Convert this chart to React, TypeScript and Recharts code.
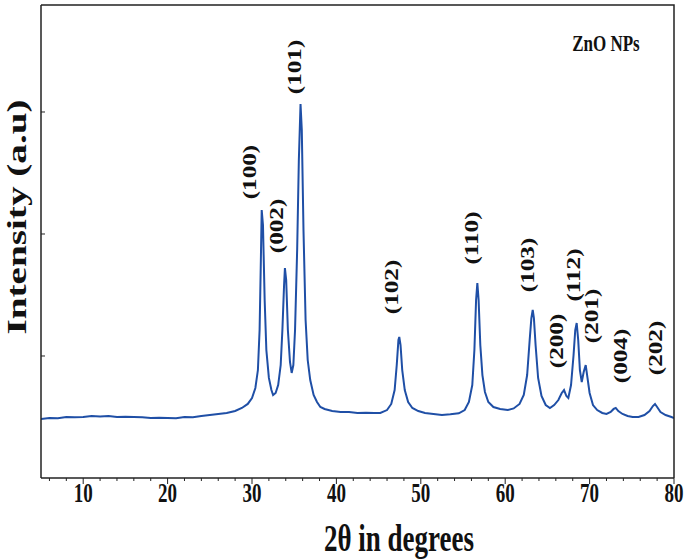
import React from "react";
import {
  LineChart,
  Line,
  XAxis,
  YAxis,
  ReferenceDot,
  Label,
} from "recharts";

// 2θ (degrees) and intensity (a.u.)
const twoTheta = [
  5, 6, 7, 8, 9, 10, 11, 12, 13, 14, 15, 16, 17, 18, 19, 20, 21, 22, 23, 24,
  25, 26, 27, 28, 28.8, 29.5, 30.0, 30.4, 30.7, 30.9, 31.05, 31.15, 31.3, 31.5,
  31.7, 32.0, 32.3, 32.5, 32.8, 33.1, 33.4, 33.6, 33.8, 33.9, 34.05, 34.25,
  34.5, 34.7, 34.9, 35.1, 35.35, 35.55, 35.75, 35.9, 36.1, 36.35, 36.6, 36.9,
  37.3, 37.7, 38.1, 38.6, 39.5, 40.5, 41.5, 42.5, 43.5, 44.5, 45.2, 46.0, 46.5,
  46.9, 47.15, 47.35, 47.45, 47.6, 47.8, 48.1, 48.5, 49.0, 49.7, 50.5, 51.5,
  52.5, 53.5, 54.5, 55.2, 55.7, 56.1, 56.35, 56.55, 56.7, 56.85, 57.05, 57.3,
  57.6, 58.0, 58.6, 59.4, 60.3, 61.0, 61.7, 62.2, 62.6, 62.9, 63.1, 63.26,
  63.4, 63.6, 63.9, 64.3, 64.8, 65.3, 65.8, 66.3, 66.7, 66.97, 67.25, 67.48,
  67.8, 68.1, 68.3, 68.47, 68.65, 68.85, 69.07, 69.3, 69.54, 69.75, 70.0, 70.4,
  70.9, 71.5, 72.0, 72.5, 72.85, 73.1, 73.4, 73.9, 74.5, 75.1, 75.8, 76.5,
  77.1, 77.5, 77.75, 78.0, 78.4, 79.0, 79.7, 80,
];
const intensity = [
  484, 492, 490, 500, 498, 500, 508, 505, 508, 500, 502, 500, 498, 492, 494,
  492, 490, 500, 498, 508, 516, 525, 533, 549, 574, 607, 656, 738, 885, 1213,
  1787, 2197, 2074, 1459, 1049, 820, 721, 680, 697, 762, 926, 1213, 1582, 1721,
  1623, 1213, 951, 861, 926, 1213, 1869, 2607, 3066, 2852, 2033, 1295, 967,
  803, 680, 623, 582, 566, 549, 541, 541, 533, 535, 533, 533, 557, 607, 721,
  926, 1131, 1156, 1090, 885, 721, 623, 574, 549, 533, 525, 516, 522, 530, 557,
  623, 762, 1049, 1459, 1598, 1459, 1090, 844, 705, 623, 582, 566, 557, 570,
  607, 680, 844, 1131, 1311, 1377, 1311, 1090, 820, 672, 598, 574, 598, 639,
  697, 721, 672, 656, 762, 1008, 1213, 1270, 1131, 885, 787, 869, 926, 820,
  697, 598, 557, 533, 525, 541, 566, 574, 549, 525, 508, 500, 500, 516, 549,
  590, 607, 582, 541, 516, 500, 492,
];

const majorTicks = [10, 20, 30, 40, 50, 60, 70, 80];
const allTicks = [
  6, 8, 10, 12, 14, 16, 18, 20, 22, 24, 26, 28, 30, 32, 34, 36, 38, 40, 42, 44,
  46, 48, 50, 52, 54, 56, 58, 60, 62, 64, 66, 68, 70, 72, 74, 76, 78, 80,
];
const yTicks = [1000, 2000, 3000];
const yMax = 3877;

// Miller indices and where their labels sit (in data coordinates)
const peakNames = ["(100)", "(002)", "(101)", "(102)", "(110)", "(103)", "(200)", "(112)", "(201)", "(004)", "(202)"];
const peakLabelX = [29.76, 32.96, 35.09, 46.59, 56.07, 62.7, 66.14, 68.15, 70.28, 73.72, 77.87];
const peakLabelY = [2508, 2066, 3369, 1566, 1967, 1746, 1123, 1664, 1328, 1000, 1066];

const data = twoTheta.map((t, i) => ({ t, v: intensity[i] }));

const W = 685;
const H = 559;
const MARGIN = { top: 5, right: 11, bottom: 0, left: 1 };
const FONT = '"Liberation Serif", "Times New Roman", serif';
const INK = "#111";

function XTick(props: any) {
  const { x, y, payload } = props;
  const major = majorTicks.includes(payload.value);
  return (
    <g>
      <line x1={x} x2={x} y1={y} y2={y + (major ? 6 : 3)} stroke="#222" strokeWidth={1} />
      {major && (
        <text
          transform={`translate(${x},${y + 24}) scale(1,1.4)`}
          textAnchor="middle"
          fontFamily={FONT}
          fontWeight="bold"
          fontSize={19}
          fill={INK}
        >
          {payload.value}
        </text>
      )}
    </g>
  );
}

// y ticks carry no numbers, only short marks
function YTick(props: any) {
  const { x, y } = props;
  return <line x1={x} x2={x + 4} y1={y} y2={y} stroke="#222" strokeWidth={1} />;
}

// y title; also closes the frame (top and right edges) from the axis viewBox
function YTitle(props: any) {
  const vb = props.viewBox || {};
  const left = vb.x + vb.width;
  const top = vb.y;
  const bottom = vb.y + vb.height;
  const right = W - MARGIN.right;
  return (
    <g>
      <path
        d={`M${left},${top} H${right} V${bottom}`}
        fill="none"
        stroke="#222"
        strokeWidth={1.5}
      />
      <text
        transform="translate(17,217) rotate(-90) scale(1.4,1)"
        textAnchor="middle"
        dominantBaseline="central"
        fontFamily={FONT}
        fontWeight="bold"
        fontSize={28}
        fill={INK}
      >
        Intensity (a.u)
      </text>
    </g>
  );
}

const peakLabel = (name: string) => (props: any) => {
  const vb = props.viewBox;
  const cx = vb.x + (vb.width || 0) / 2;
  const cy = vb.y + (vb.height || 0) / 2;
  return (
    <text
      transform={`translate(${cx},${cy}) rotate(-90) scale(1.4,1)`}
      textAnchor="middle"
      dominantBaseline="central"
      fontFamily={FONT}
      fontWeight="bold"
      fontSize={18}
      fill={INK}
    >
      {name}
    </text>
  );
};

const sampleLabel = (props: any) => {
  const vb = props.viewBox;
  const cx = vb.x + (vb.width || 0) / 2;
  const cy = vb.y + (vb.height || 0) / 2;
  return (
    <text
      transform={`translate(${cx},${cy}) scale(1,1.4)`}
      textAnchor="middle"
      dominantBaseline="central"
      fontFamily={FONT}
      fontWeight="bold"
      fontSize={17}
      fill={INK}
    >
      ZnO NPs
    </text>
  );
};

export default function App() {
  return (
    <div style={{ position: "absolute", left: 0, top: 0, width: W, height: H, background: "#fff" }}>
      <LineChart width={W} height={H} data={data} margin={MARGIN}>
        <XAxis
          dataKey="t"
          type="number"
          domain={[5, 80]}
          ticks={allTicks}
          interval={0}
          height={81}
          tickSize={0}
          tickMargin={0}
          tickLine={false}
          tick={<XTick />}
          axisLine={{ stroke: "#222", strokeWidth: 1.5 }}
          allowDataOverflow
        >
          <Label
            content={() => (
              <text
                transform="translate(399,551) scale(1,1.4)"
                textAnchor="middle"
                fontFamily={FONT}
                fontWeight="bold"
                fontSize={27}
                fill={INK}
              >
                2θ in degrees
              </text>
            )}
          />
        </XAxis>
        <YAxis
          type="number"
          domain={[0, yMax]}
          ticks={yTicks}
          width={40}
          tickSize={0}
          tickMargin={0}
          tickLine={false}
          tick={<YTick />}
          axisLine={{ stroke: "#222", strokeWidth: 1.5 }}
          allowDataOverflow
        >
          <Label content={<YTitle />} />
        </YAxis>
        <Line
          type="linear"
          dataKey="v"
          stroke="#1f4fa6"
          strokeWidth={2}
          dot={false}
          isAnimationActive={false}
        />
        {peakNames.map((n, i) => (
          <ReferenceDot
            key={n}
            x={peakLabelX[i]}
            y={peakLabelY[i]}
            r={1}
            fill="none"
            stroke="none"
            label={{ content: peakLabel(n) }}
          />
        ))}
        <ReferenceDot
          x={71.94}
          y={3566}
          r={1}
          fill="none"
          stroke="none"
          label={{ content: sampleLabel }}
        />
      </LineChart>
    </div>
  );
}
